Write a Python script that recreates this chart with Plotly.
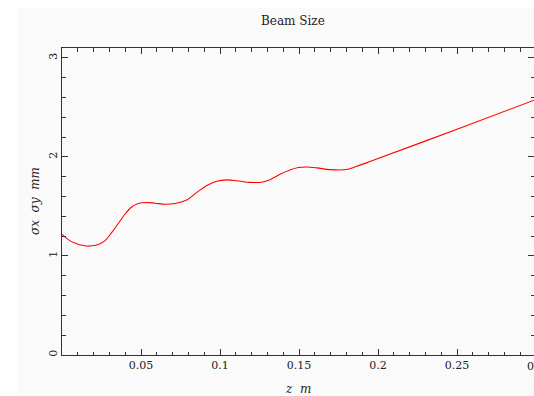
import plotly.graph_objects as go

# Beam size curve
z_m = [0.0, 0.004, 0.008, 0.0135, 0.0177, 0.023, 0.0272, 0.0314, 0.0357, 0.0399,
       0.0441, 0.0483, 0.0536, 0.0589, 0.0652, 0.0715, 0.0789, 0.0852, 0.0916,
       0.0979, 0.1042, 0.1106, 0.119, 0.1264, 0.1316, 0.138, 0.1443, 0.1496,
       0.1549, 0.1612, 0.1696, 0.1802, 0.1865, 0.1949, 0.25, 0.3]
sigma_mm = [1.219, 1.165, 1.13, 1.105, 1.10, 1.115, 1.155, 1.235, 1.33, 1.424,
            1.495, 1.53, 1.54, 1.533, 1.522, 1.53, 1.566, 1.64, 1.712,
            1.755, 1.768, 1.76, 1.743, 1.745, 1.77, 1.825, 1.868, 1.893,
            1.898, 1.89, 1.872, 1.873, 1.905, 1.953, 2.28, 2.58]

x_tickvals = [0.05, 0.1, 0.15, 0.2, 0.25]
x_ticktext = ["0.05", "0.1", "0.15", "0.2", "0.25"]
y_tickvals = [0, 1, 2, 3]
y_ticktext = ["0", "1", "2", "3"]

W, H = 534, 396
L, T, B, R = 62, 48, 41, 0
PW, PH = W - L - R, H - T - B
PX_PER_M = 1580.0            # 0.3 m sits 2px beyond the window's right edge
x_end = PW / PX_PER_M

serif = "DejaVu Serif, Liberation Serif, serif"
ink = "#222222"
axc = "#333333"


def px(xp):
    return (xp - L) / PW


def py(yp):
    return (H - B - yp) / PH


fig = go.Figure()
fig.add_trace(go.Scatter(x=z_m, y=sigma_mm, mode="lines",
                         line=dict(color="#ff0000", width=1.1, shape="spline", smoothing=1.0),
                         hoverinfo="skip", showlegend=False))

axis_common = dict(showgrid=False, zeroline=False, showline=True, linecolor=axc,
                   linewidth=1, mirror="allticks", ticks="inside", tickcolor=axc,
                   ticklen=6, tickwidth=1,
                   tickfont=dict(family=serif, size=11, color=ink))

fig.update_layout(
    width=W, height=H,
    margin=dict(l=L, r=R, t=T, b=B, pad=0),
    paper_bgcolor="#fafafa",
    plot_bgcolor="#fafafa",
    hovermode=False,
    xaxis=dict(range=[0, x_end], tickvals=x_tickvals, ticktext=x_ticktext,
               minor=dict(dtick=0.01, tick0=0, ticks="inside", ticklen=3.5,
                          tickcolor=axc, showgrid=False),
               **axis_common),
    yaxis=dict(range=[0, 3.1], tickvals=y_tickvals, ticktext=y_ticktext, tickangle=-90,
               minor=dict(dtick=0.2, tick0=0, ticks="inside", ticklen=3.5,
                          tickcolor=axc, showgrid=False),
               **axis_common),
    shapes=[
        dict(type="rect", xref="paper", yref="paper", layer="below",
             x0=px(0), x1=px(17), y0=py(H), y1=py(0), fillcolor="#ffffff", line=dict(width=0)),
        dict(type="rect", xref="paper", yref="paper", layer="below",
             x0=px(0), x1=px(W), y0=py(8), y1=py(0), fillcolor="#ffffff", line=dict(width=0)),
    ],
    annotations=[
        dict(text="Beam Size", xref="paper", yref="paper", x=px(293), y=py(21),
             xanchor="center", yanchor="middle", showarrow=False,
             font=dict(family=serif, size=12, color=ink)),
        dict(text="<i>z  m</i>", xref="paper", yref="paper", x=px(298), y=py(389),
             xanchor="center", yanchor="middle", showarrow=False,
             font=dict(family=serif, size=12, color=ink)),
        dict(text="<i>σx  σy  mm</i>", xref="paper", yref="paper", x=px(35), y=py(201),
             xanchor="center", yanchor="middle", showarrow=False, textangle=-90,
             font=dict(family=serif, size=12, color=ink)),
        # last x tick label (0.3) lies on the window edge and is only partly visible
        dict(text="0.3", xref="paper", yref="paper", x=px(536), y=py(366),
             xanchor="center", yanchor="middle", showarrow=False,
             font=dict(family=serif, size=11, color=ink)),
    ],
)

fig.write_html(
    "out.html",
    config={"displayModeBar": False, "staticPlot": True},
    post_script="document.body.style.margin='0';"
                "document.documentElement.style.overflow='hidden';"
                "document.body.style.overflow='hidden';",
)
